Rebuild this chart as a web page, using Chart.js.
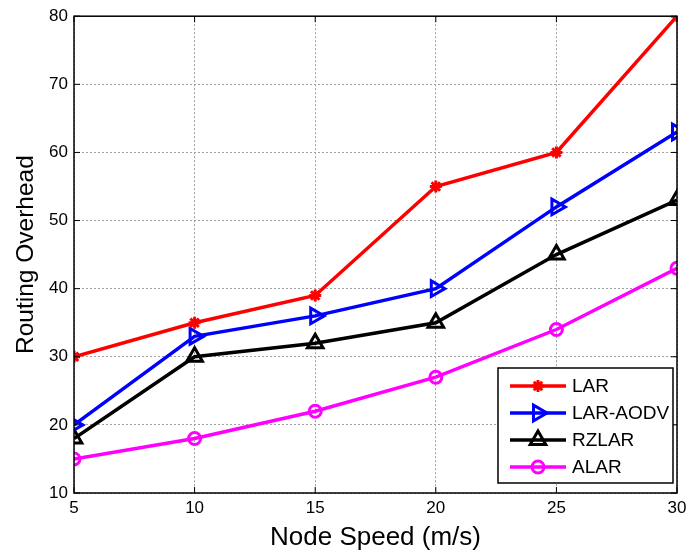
<!DOCTYPE html>
<html>
<head>
<meta charset="utf-8">
<script src="https://cdn.jsdelivr.net/npm/chart.js@4"></script>
<style>
  html, body { margin: 0; padding: 0; background: #fff; }
  #wrap { width: 689px; height: 553px; }
</style>
</head>
<body>
<div id="wrap"><canvas id="overheadChart" width="689" height="553"></canvas></div>
<script>
const speeds = [5, 10, 15, 20, 25, 30];
const lar = [30, 35, 39, 55, 60, 80];
const larAodv = [20, 33, 36, 40, 52, 63];
const rzlar = [18, 30, 32, 35, 45, 53];
const alar = [15, 18, 22, 27, 34, 43];
const xTicks = [5, 10, 15, 20, 25, 30];
const yTicks = [10, 20, 30, 40, 50, 60, 70, 80];

const fontName = "'Liberation Sans', Arial, sans-serif";

const serie = (label, valores, cor, estilo, raio, rot) => ({
    label: label,
    data: speeds.map((s, i) => ({ x: s, y: valores[i] })),
    borderColor: cor,
    backgroundColor: cor,
    borderWidth: 3.5,
    pointStyle: estilo,
    pointRadius: raio,
    pointRotation: rot || 0,
    pointBorderColor: cor,
    pointBackgroundColor: 'rgba(0,0,0,0)',
    pointBorderWidth: 3,
    tension: 0,
});

// legenda e ticks internos no estilo MATLAB
const moldura = {
    id: 'moldura',
    afterDraw(chart) {
        const { ctx, chartArea: a, scales } = chart;
        ctx.save();
        ctx.strokeStyle = '#000';
        ctx.lineWidth = 1.5;
        ctx.strokeRect(a.left, a.top, a.right - a.left, a.bottom - a.top);
        ctx.lineWidth = 1;
        xTicks.forEach(v => {
            const x = scales.x.getPixelForValue(v);
            ctx.beginPath();
            ctx.moveTo(x, a.bottom); ctx.lineTo(x, a.bottom - 6);
            ctx.moveTo(x, a.top); ctx.lineTo(x, a.top + 6);
            ctx.stroke();
        });
        yTicks.forEach(v => {
            const y = scales.y.getPixelForValue(v);
            ctx.beginPath();
            ctx.moveTo(a.left, y); ctx.lineTo(a.left + 6, y);
            ctx.moveTo(a.right, y); ctx.lineTo(a.right - 6, y);
            ctx.stroke();
        });

        // caixa da legenda
        const lx = 498, ly = 368, lw = 175, lh = 115;
        ctx.fillStyle = '#fff';
        ctx.fillRect(lx, ly, lw, lh);
        ctx.strokeStyle = '#000';
        ctx.lineWidth = 1.5;
        ctx.strokeRect(lx, ly, lw, lh);
        chart.data.datasets.forEach((ds, i) => {
            const y = ly + 18 + i * 27;
            ctx.strokeStyle = ds.borderColor;
            ctx.lineWidth = 3.5;
            ctx.beginPath();
            ctx.moveTo(lx + 12, y); ctx.lineTo(lx + 68, y);
            ctx.stroke();
            ctx.lineWidth = 3;
            ctx.fillStyle = 'rgba(0,0,0,0)';
            Chart.helpers.drawPoint(ctx, {
                pointStyle: ds.pointStyle,
                rotation: ds.pointRotation,
                radius: ds.pointRadius,
                borderWidth: 3,
            }, lx + 40, y);
            ctx.fillStyle = '#000';
            ctx.font = '19px ' + fontName;
            ctx.textBaseline = 'middle';
            ctx.textAlign = 'left';
            ctx.fillText(ds.label, lx + 74, y + 1);
        });
        ctx.restore();
    }
};

new Chart(document.getElementById('overheadChart').getContext('2d'), {
    type: 'line',
    data: {
        datasets: [
            serie('LAR', lar, '#ff0000', 'star', 6),
            serie('LAR-AODV', larAodv, '#0000ff', 'triangle', 9, 90),
            serie('RZLAR', rzlar, '#000000', 'triangle', 9),
            serie('ALAR', alar, '#ff00ff', 'circle', 6),
        ],
    },
    options: {
        responsive: false,
        animation: false,
        layout: { padding: { top: 16, right: 0, left: 0, bottom: 0 } },
        plugins: {
            legend: { display: false },
            title: { display: false },
            tooltip: { enabled: false },
        },
        scales: {
            x: {
                type: 'linear',
                min: 5,
                max: 30,
                afterBuildTicks: s => { s.ticks = xTicks.map(v => ({ value: v })); },
                afterFit: s => { s.height = 60; s.paddingRight = 10; },
                ticks: { color: '#000', font: { family: fontName, size: 17 }, padding: 5 },
                grid: { color: '#a0a0a0', drawTicks: false, lineWidth: 1 },
                border: { display: false, dash: [2, 2] },
                title: {
                    display: true,
                    text: 'Node Speed (m/s)',
                    color: '#000',
                    font: { family: fontName, size: 26 },
                    padding: { top: 0, bottom: 0 },
                },
            },
            y: {
                min: 10,
                max: 80,
                afterBuildTicks: s => { s.ticks = yTicks.map(v => ({ value: v })); },
                afterFit: s => { s.width = 74; },
                ticks: { color: '#000', font: { family: fontName, size: 17 }, padding: 6 },
                grid: { color: '#a0a0a0', drawTicks: false, lineWidth: 1 },
                border: { display: false, dash: [2, 2] },
                title: {
                    display: true,
                    text: 'Routing Overhead',
                    color: '#000',
                    font: { family: fontName, size: 24.5 },
                    padding: { top: 12, bottom: 0 },
                },
            },
        },
    },
    plugins: [moldura],
});
</script>
</body>
</html>
